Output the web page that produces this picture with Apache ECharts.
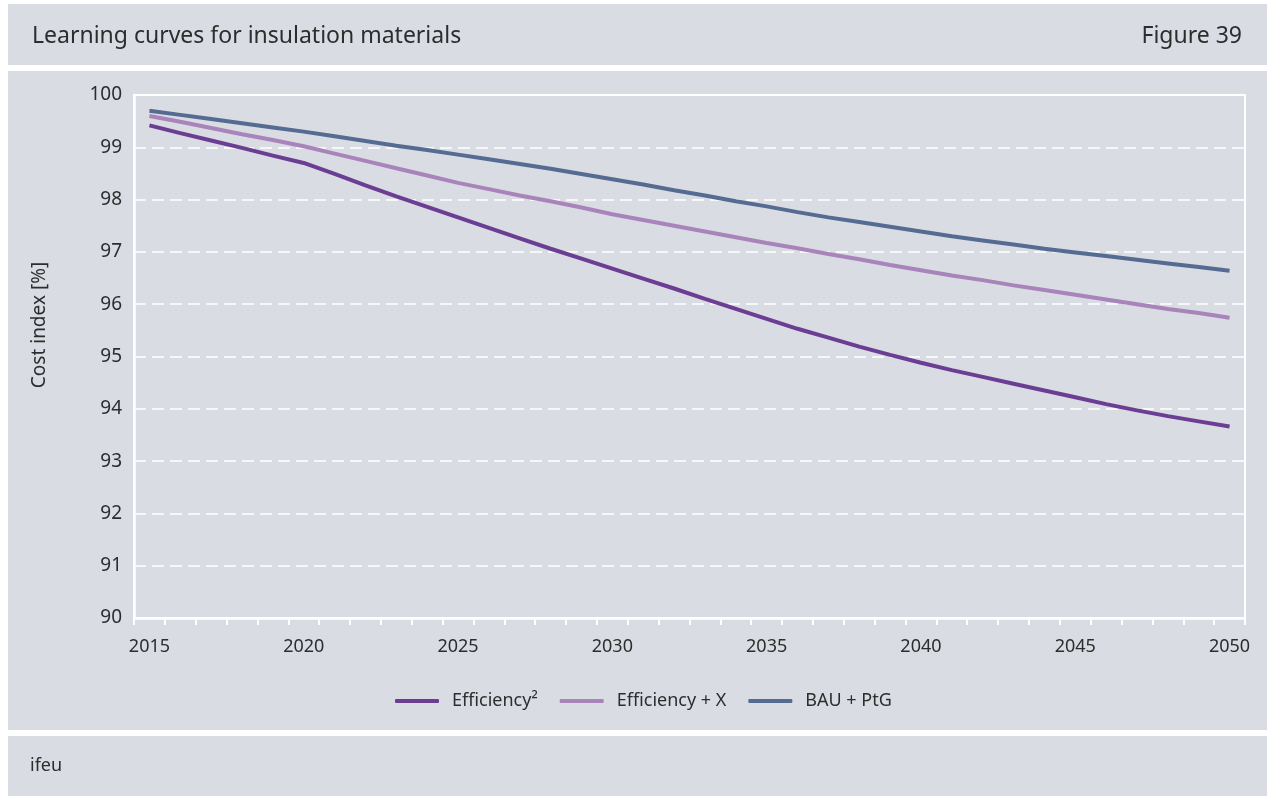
<!DOCTYPE html>
<html>
	<head>
		<meta charset="UTF-8">
		<title>Learning curves for insulation materials</title>
		<style>
			html, body { margin: 0; padding: 0; background: #fff; }
		</style>
	</head>
	<body>
		<div id="main" style="width: 1267px;height:796px;"></div>
		<script src="https://cdn.jsdelivr.net/npm/echarts@6/dist/echarts.min.js"></script>
		<script>
		// years on the x axis
		var years = [];
		for (var y = 2015; y <= 2050; y++) years.push(String(y));

		// cost index [%]
		var efficiency2 = [99.42, 99.27, 99.13, 98.99, 98.84, 98.70, 98.49, 98.27, 98.06, 97.86,
			97.66, 97.46, 97.26, 97.06, 96.87, 96.68, 96.49, 96.30, 96.10, 95.91,
			95.72, 95.53, 95.36, 95.19, 95.03, 94.88, 94.74, 94.61, 94.48, 94.35,
			94.22, 94.09, 93.97, 93.86, 93.76, 93.66];
		var efficiencyX = [99.60, 99.49, 99.37, 99.25, 99.14, 99.02, 98.88, 98.74, 98.60, 98.46,
			98.32, 98.20, 98.08, 97.97, 97.85, 97.72, 97.61, 97.50, 97.39, 97.28,
			97.17, 97.07, 96.96, 96.86, 96.75, 96.65, 96.55, 96.46, 96.36, 96.27,
			96.18, 96.09, 96.00, 95.91, 95.83, 95.74];
		var bauPtg = [99.70, 99.62, 99.54, 99.46, 99.38, 99.30, 99.21, 99.12, 99.03, 98.95,
			98.86, 98.77, 98.68, 98.59, 98.49, 98.39, 98.29, 98.18, 98.08, 97.97,
			97.87, 97.76, 97.66, 97.57, 97.48, 97.39, 97.30, 97.22, 97.14, 97.06,
			96.99, 96.92, 96.85, 96.78, 96.71, 96.64];

		var seriesNames = ['Efficiency\u00b2', 'Efficiency + X', 'BAU + PtG'];
		var seriesColors = ['#6b3d93', '#a984bb', '#566b92'];

		var bg = '#d9dce3';
		var txt = '#2d2d2d';
		var font = '"Noto Sans", sans-serif';

		var chart = echarts.init(document.getElementById('main'));
		chart.setOption({
			backgroundColor: '#ffffff',
			textStyle: { fontFamily: font },
			graphic: [
				{ type: 'rect', z: -10, shape: { x: 8, y: 4, width: 1259, height: 61 }, style: { fill: bg } },
				{ type: 'rect', z: -10, shape: { x: 8, y: 71, width: 1259, height: 659 }, style: { fill: bg } },
				{ type: 'rect', z: -10, shape: { x: 8, y: 736, width: 1259, height: 60 }, style: { fill: bg } },
				{ type: 'text', x: 32, y: 36, style: { text: 'Learning curves for insulation materials', fill: txt, font: '23px ' + font, textVerticalAlign: 'middle' } },
				{ type: 'text', x: 1242, y: 36, style: { text: 'Figure 39', fill: txt, font: '23px ' + font, textAlign: 'right', textVerticalAlign: 'middle' } },
				{ type: 'text', x: 30, y: 766, style: { text: 'ifeu', fill: txt, font: '18px ' + font, textVerticalAlign: 'middle' } },
				{ type: 'text', x: 40, y: 325, rotation: Math.PI / 2, style: { text: 'Cost index [%]', fill: txt, font: '19px ' + font, textAlign: 'center', textVerticalAlign: 'middle' } }
			],
			grid: {
				left: 134, right: 22, top: 95, bottom: 178,
				show: true, backgroundColor: bg, borderColor: '#ffffff', borderWidth: 2
			},
			legend: {
				left: 390, top: 687,
				icon: 'roundRect', itemWidth: 44, itemHeight: 4, itemGap: 22,
				textStyle: { color: txt, fontSize: 18, padding: [0, 0, 0, 8] },
				data: seriesNames
			},
			xAxis: {
				type: 'category',
				data: years,
				boundaryGap: true,
				axisLine: { lineStyle: { color: '#ffffff', width: 2.5 } },
				axisTick: { show: true, interval: 0, length: 7, lineStyle: { color: '#ffffff', width: 2 } },
				axisLabel: { interval: 4, color: txt, fontSize: 18, margin: 20 },
				splitLine: { show: false }
			},
			yAxis: {
				type: 'value',
				min: 90, max: 100, interval: 1,
				axisLine: { show: true, lineStyle: { color: '#ffffff', width: 2.5 } },
				axisTick: { show: false },
				axisLabel: { color: txt, fontSize: 19, margin: 12 },
				splitLine: { show: true, lineStyle: { color: '#ffffff', width: 1.5, type: [12, 6] } }
			},
			series: [
				{ name: seriesNames[0], type: 'line', data: efficiency2, symbol: 'none', lineStyle: { width: 4, color: seriesColors[0] }, itemStyle: { color: seriesColors[0] } },
				{ name: seriesNames[1], type: 'line', data: efficiencyX, symbol: 'none', lineStyle: { width: 4, color: seriesColors[1] }, itemStyle: { color: seriesColors[1] } },
				{ name: seriesNames[2], type: 'line', data: bauPtg, symbol: 'none', lineStyle: { width: 4, color: seriesColors[2] }, itemStyle: { color: seriesColors[2] } }
			]
		});
		</script>
	</body>
</html>
